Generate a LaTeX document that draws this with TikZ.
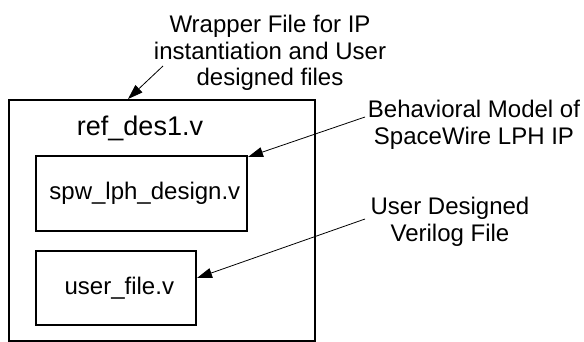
\documentclass[tikz,border=0pt]{standalone}
\usepackage{fontspec}
\setmainfont{Liberation Sans}
\usetikzlibrary{arrows.meta}
\begin{document}
\begin{tikzpicture}[x=1pt,y=-1pt,
  box/.style={draw,line width=2pt,inner sep=0,anchor=north west,font=\fontsize{24}{26}\selectfont},
  lbl/.style={font=\fontsize{24}{26.5}\selectfont,align=center,inner sep=0,anchor=north},
  ptr/.style={line width=0.8pt,-{Triangle[length=15pt,width=10pt]}}]
\useasboundingbox (0,0) rectangle (584,341);
\node[box,minimum width=306pt,minimum height=241pt] (outer) at (8,99) {};
\node[font=\fontsize{27}{30}\selectfont,inner sep=0,anchor=base] (title) at (140,135) {ref\_des1.v};
\node[box,minimum width=211pt,minimum height=75pt] (b1) at (35,155) {\ spw\_lph\_design.v};
\node[box,minimum width=160pt,minimum height=74pt] (b2) at (35,250) {\ user\_file.v};
\node[lbl] (wrap) at (270,15) {Wrapper File for IP\\instantiation and User\\designed files};
\node[lbl] (beh) at (474,100) {Behavioral Model of\\SpaceWire LPH IP};
\node[lbl] (usr) at (450,197) {User Designed\\Verilog File};
\coordinate (s1) at (163,66);
\coordinate (s2) at (365,117);
\coordinate (s3) at (365,219);
\draw[ptr] (s1) -- (outer.north -| 128,0);
\draw[ptr] (s2) -- ([yshift=-2pt]b1.north east);
\draw[ptr] (s3) -- ([yshift=10pt]b2.east);
\end{tikzpicture}
\end{document}
